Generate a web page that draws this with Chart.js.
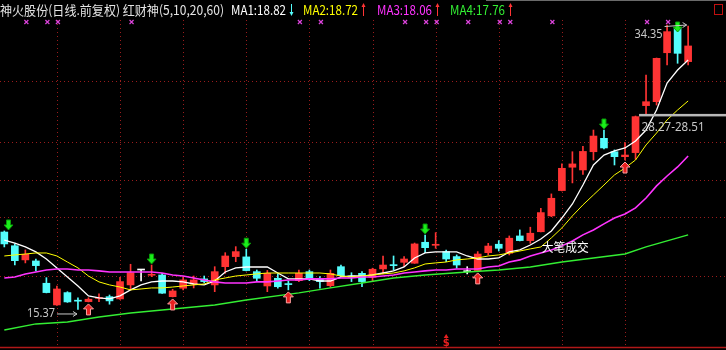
<!DOCTYPE html>
<html>
<head>
<meta charset="utf-8">
<title>神火股份 日线</title>
<script src="https://cdn.jsdelivr.net/npm/chart.js@4.4.1/dist/chart.umd.min.js"></script>
<style>
    html, body { margin: 0; padding: 0; background: #000; }
    #wrap { width: 726px; height: 350px; position: relative; overflow: hidden; }
    canvas { display: block; }
</style>
</head>
<body>
<div id="wrap"><canvas id="kline" width="726" height="350"></canvas></div>
<script>
/**
 * 神火股份 daily K-line with 红财神 MA overlay
 */

// Candles (one per trading day, oldest first)
const openPrices = [
    20.51, 19.60, 18.66, 18.59, 17.11, 15.67, 16.49, 15.96, 15.89, 16.10,
    16.22, 16.07, 17.00, 17.99, 17.64, 17.66, 16.22, 16.78, 17.06, 17.40,
    17.00, 18.21, 18.88, 18.86, 17.88, 16.93, 17.44, 17.06, 17.28, 17.88,
    17.38, 16.95, 18.21, 17.59, 17.77, 17.51, 18.06, 18.32, 18.50, 18.44,
    19.83, 19.63, 19.21, 18.88, 17.88, 17.95, 19.14, 19.70, 19.10, 20.25,
    19.94, 20.53, 21.58, 23.26, 24.81, 24.63, 25.84, 26.73, 25.84, 25.51,
    25.78, 28.90, 29.16, 32.41, 34.03, 31.82
];
const closePrices = [
    19.72, 18.61, 19.03, 18.28, 16.49, 16.73, 15.87, 15.92, 16.05, 16.12,
    15.94, 17.22, 17.81, 17.99, 17.66, 16.45, 16.60, 17.33, 17.33, 17.22,
    17.88, 18.92, 19.21, 17.95, 17.44, 17.77, 16.88, 17.02, 17.77, 17.40,
    17.22, 17.77, 17.61, 17.51, 17.22, 18.04, 18.32, 18.28, 18.72, 19.72,
    19.47, 19.65, 18.72, 18.32, 17.88, 19.05, 19.58, 19.43, 20.10, 19.94,
    20.43, 21.80, 22.75, 24.74, 25.03, 25.86, 26.88, 26.09, 25.51, 25.62,
    28.17, 29.16, 32.04, 33.81, 32.37, 32.86
];
const highPrices = [
    20.58, 19.72, 19.32, 18.72, 17.48, 16.93, 16.55, 16.14, 16.15, 16.40,
    16.33, 17.51, 18.37, 17.99, 18.32, 17.77, 16.71, 17.53, 17.59, 17.59,
    18.21, 19.14, 19.54, 19.37, 17.99, 17.96, 17.73, 17.26, 17.99, 17.99,
    17.55, 17.99, 18.32, 17.81, 17.88, 18.11, 18.92, 18.92, 18.88, 19.78,
    20.31, 20.47, 19.32, 18.99, 18.21, 19.21, 19.76, 19.94, 20.25, 20.65,
    20.83, 22.09, 23.04, 25.03, 25.84, 26.19, 27.28, 27.28, 25.96, 26.44,
    28.21, 30.93, 32.06, 34.25, 34.35, 34.18
];
const lowPrices = [
    19.52, 18.32, 18.46, 17.93, 16.47, 15.64, 15.84, 15.37, 15.87, 15.89,
    15.72, 16.04, 16.67, 17.26, 17.55, 16.43, 16.20, 16.67, 16.80, 17.13,
    16.55, 17.77, 18.54, 17.93, 17.22, 16.55, 16.78, 16.67, 17.22, 17.28,
    16.78, 16.84, 17.55, 17.22, 16.88, 17.22, 17.73, 17.99, 18.21, 18.43,
    19.14, 19.43, 18.54, 18.11, 17.73, 17.93, 18.99, 19.25, 18.99, 19.92,
    19.76, 20.51, 21.53, 23.24, 23.77, 24.33, 25.29, 26.02, 24.96, 25.29,
    25.34, 28.28, 28.94, 31.60, 31.71, 31.60
];

// Moving averages (MA1..MA3 one value per candle)
const ma1 = [
    19.98, 19.78, 19.52, 19.19, 18.72, 18.13, 17.53, 16.93, 16.27, 16.14,
    16.07, 16.27, 16.67, 17.00, 17.20, 17.26, 17.26, 17.20, 17.06, 17.00,
    17.26, 17.86, 18.13, 18.19, 18.19, 18.19, 17.79, 17.40, 17.40, 17.40,
    17.26, 17.26, 17.53, 17.59, 17.59, 17.66, 17.79, 17.93, 18.19, 18.79,
    19.12, 19.19, 19.19, 19.19, 18.92, 18.72, 18.72, 18.79, 19.19, 19.32,
    19.65, 20.05, 20.58, 21.44, 22.37, 23.63, 24.96, 25.62, 25.89, 26.09,
    26.55, 27.28, 28.61, 30.40, 31.26, 31.93
];
const ma2 = [
    18.92, 18.99, 19.05, 19.12, 19.12, 18.92, 18.52, 18.13, 17.59, 17.20,
    17.00, 16.86, 16.67, 16.73, 16.80, 16.80, 16.86, 16.93, 17.00, 17.06,
    17.33, 17.46, 17.59, 17.66, 17.73, 17.79, 17.79, 17.79, 17.79, 17.79,
    17.79, 17.73, 17.59, 17.53, 17.59, 17.66, 17.73, 17.79, 17.93, 18.13,
    18.39, 18.46, 18.52, 18.66, 18.72, 18.79, 18.92, 18.99, 19.12, 19.25,
    19.39, 19.52, 20.12, 20.78, 21.58, 22.31, 22.97, 23.63, 24.30, 24.76,
    25.29, 26.29, 27.08, 27.95, 28.61, 29.21
];
const ma3 = [
    17.46, 17.53, 17.73, 17.86, 17.99, 18.06, 18.06, 17.99, 17.99, 17.93,
    17.86, 17.86, 17.86, 17.86, 17.86, 17.79, 17.66, 17.59, 17.46, 17.33,
    17.20, 17.13, 17.13, 17.13, 17.20, 17.20, 17.26, 17.33, 17.33, 17.40,
    17.40, 17.40, 17.46, 17.46, 17.53, 17.53, 17.59, 17.66, 17.79, 17.86,
    17.93, 17.99, 17.99, 18.06, 18.06, 18.06, 18.19, 18.26, 18.52, 18.66,
    18.92, 19.12, 19.32, 19.59, 19.92, 20.32, 20.65, 21.05, 21.44, 21.71,
    22.11, 22.77, 23.57, 24.23, 24.83, 25.56
];
// MA4 is almost straight, sampled at these candles
const ma4Idx = [0, 3, 6, 9, 12, 16, 20, 23, 28, 31, 34, 37, 40, 44, 47, 50, 53, 56, 59, 61, 62, 64, 65];
const ma4 = [14.01, 14.41, 14.54, 14.87, 15.14, 15.40, 15.67, 16.00, 16.47, 16.80, 17.13, 17.46,
             17.66, 17.86, 17.99, 18.19, 18.52, 18.79, 19.05, 19.52, 19.72, 20.12, 20.32];

// Signals
const sellIdx = [0, 14, 23, 40, 57, 64];           // green down arrows
const buyIdx = [8, 16, 27, 45, 59];                 // red up arrows
const crossIdx = [2, 4, 5, 12, 28, 30, 38, 40, 41, 44, 47, 48, 52, 61, 63];  // magenta x row
const dollarIdx = 42;
const bigTradeIdx = 51;
const bigTradePrice = 19.52;
const rangeIdx = 60;
const rangeLow = 28.27;
const rangeHigh = 28.51;

// Grid
const gridIdx = [5, 11, 17, 23, 29, 35, 41, 47, 53, 59];
const gridPrices = [30.53, 26.49, 23.96, 21.51, 17.59];

// Header
const titleText = '神火股份(日线.前复权) 红财神(5,10,20,60)';
const maLabels = ['MA1:18.82', 'MA2:18.72', 'MA3:18.06', 'MA4:17.76'];
const maTrend = ['down', 'up', 'up', 'up'];

const RED = '#ff3434';
const CYAN = '#54fcfc';
const MA_COLORS = ['#ffffff', '#ffff00', '#ff33ff', '#33ee33'];
const CJK = '"Noto Sans CJK SC", "Noto Sans", sans-serif';

const candleIdx = openPrices.map((_, i) => i);
const candleColors = candleIdx.map(i => {
    if (closePrices[i] > openPrices[i]) return RED;
    if (closePrices[i] < openPrices[i]) return CYAN;
    return '#ffffff';
});

/**
 * Text squeezed or stretched to a given width (the terminal font is narrow)
 */
function fitText(ctx, text, x, y, width, color, font) {
    ctx.save();
    ctx.font = font;
    ctx.fillStyle = color;
    ctx.textBaseline = 'middle';
    const w = ctx.measureText(text).width;
    ctx.translate(x, y);
    ctx.scale(width / w, 1);
    ctx.fillText(text, 0, 0);
    ctx.restore();
}

function thinArrow(ctx, x, yTail, yHead, color) {
    const d = yHead > yTail ? -1 : 1;
    ctx.strokeStyle = color;
    ctx.fillStyle = color;
    ctx.lineWidth = 1;
    ctx.beginPath();
    ctx.moveTo(x, yTail);
    ctx.lineTo(x, yHead + d * 3);
    ctx.stroke();
    ctx.beginPath();
    ctx.moveTo(x - 2, yHead + d * 4);
    ctx.lineTo(x, yHead);
    ctx.lineTo(x + 2, yHead + d * 4);
    ctx.closePath();
    ctx.fill();
}

function sellArrow(ctx, x, tip) {
    tip = Math.max(tip, 32);
    ctx.fillStyle = '#1aee1a';
    ctx.strokeStyle = '#0a9a0a';
    ctx.lineWidth = 1;
    ctx.beginPath();
    ctx.moveTo(x - 2, tip - 10);
    ctx.lineTo(x + 2, tip - 10);
    ctx.lineTo(x + 2, tip - 5);
    ctx.lineTo(x + 4.5, tip - 5);
    ctx.lineTo(x, tip);
    ctx.lineTo(x - 4.5, tip - 5);
    ctx.lineTo(x - 2, tip - 5);
    ctx.closePath();
    ctx.fill();
    ctx.stroke();
}

function buyArrow(ctx, x, top) {
    ctx.fillStyle = '#e82020';
    ctx.strokeStyle = '#ffa0a0';
    ctx.lineWidth = 1;
    ctx.beginPath();
    ctx.moveTo(x, top);
    ctx.lineTo(x + 5, top + 5);
    ctx.lineTo(x + 2, top + 5);
    ctx.lineTo(x + 2, top + 11);
    ctx.lineTo(x - 2, top + 11);
    ctx.lineTo(x - 2, top + 5);
    ctx.lineTo(x - 5, top + 5);
    ctx.closePath();
    ctx.fill();
    ctx.stroke();
}

function lineArrow(ctx, x0, y0, x1, y1, color) {
    ctx.strokeStyle = color;
    ctx.lineWidth = 1;
    ctx.beginPath();
    ctx.moveTo(x0, y0);
    ctx.lineTo(x1, y1);
    ctx.moveTo(x1 - 4, y1 - 2.5);
    ctx.lineTo(x1, y1);
    ctx.lineTo(x1 - 4, y1 + 2.5);
    ctx.stroke();
}

// Dotted terminal grid, behind the candles
const gridPlugin = {
    id: 'grid',
    beforeDatasetsDraw(chart) {
        const { ctx, scales: { x, y }, width } = chart;
        ctx.save();
        ctx.strokeStyle = '#9a1c1c';
        ctx.lineWidth = 1;
        ctx.setLineDash([1, 3]);
        gridPrices.forEach(p => {
            const py = Math.round(y.getPixelForValue(p)) + 0.5;
            ctx.beginPath();
            ctx.moveTo(0, py);
            ctx.lineTo(width, py);
            ctx.stroke();
        });
        gridIdx.forEach(i => {
            const px = Math.round(x.getPixelForValue(i)) + 0.5;
            ctx.beginPath();
            ctx.moveTo(px, 20);
            ctx.lineTo(px, 346);
            ctx.stroke();
        });
        ctx.restore();
    }
};

// Header, signals and price labels on top
const overlayPlugin = {
    id: 'overlay',
    afterDatasetsDraw(chart) {
        const { ctx, scales: { x, y }, width } = chart;
        const X = i => x.getPixelForValue(i);
        const Y = p => y.getPixelForValue(p);
        ctx.save();

        // frame lines
        ctx.strokeStyle = '#b01818';
        ctx.lineWidth = 1.5;
        ctx.beginPath();
        ctx.moveTo(0, 347.5);
        ctx.lineTo(width, 347.5);
        ctx.stroke();
        ctx.strokeStyle = '#6a6a6a';
        ctx.lineWidth = 1;
        ctx.beginPath();
        ctx.moveTo(486, 0.5);
        ctx.lineTo(width, 0.5);
        ctx.stroke();
        ctx.strokeStyle = '#c01010';
        ctx.strokeRect(714.5, 4.5, 8, 10);

        // header
        fitText(ctx, titleText, 0, 10, 224, '#e4e4e4', '13px ' + CJK);
        const labelX = [231, 303, 377, 450];
        maLabels.forEach((t, k) => {
            fitText(ctx, t, labelX[k], 10, 55, MA_COLORS[k], '13px ' + CJK);
            const ax = labelX[k] + 60.5;
            if (maTrend[k] === 'down') thinArrow(ctx, ax, 4, 16, CYAN);
            else thinArrow(ctx, ax, 16, 3, RED);
        });

        // magenta x row
        ctx.strokeStyle = '#dd44dd';
        ctx.lineWidth = 1.2;
        crossIdx.forEach(i => {
            const px = X(i) + 1;
            ctx.beginPath();
            ctx.moveTo(px - 2, 20);
            ctx.lineTo(px + 2, 24);
            ctx.moveTo(px + 2, 20);
            ctx.lineTo(px - 2, 24);
            ctx.stroke();
        });

        // buy / sell arrows
        sellIdx.forEach(i => sellArrow(ctx, Math.max(X(i), 8.5), Y(highPrices[i]) - 1));
        buyIdx.forEach(i => buyArrow(ctx, X(i), Y(lowPrices[i]) + 2));

        // highest and lowest price
        const hi = highPrices.indexOf(Math.max(...highPrices));
        const lo = lowPrices.indexOf(Math.min(...lowPrices));
        const hx = X(hi), hy = Y(highPrices[hi]);
        fitText(ctx, highPrices[hi].toFixed(2), hx - 43, hy + 10.5, 28, '#c8c8c8', '13px "Noto Sans", sans-serif');
        lineArrow(ctx, hx - 13, hy + 3, hx + 9, hy + 1.5, '#c8c8c8');
        const lx = X(lo), ly = Y(lowPrices[lo]);
        fitText(ctx, lowPrices[lo].toFixed(2), lx - 51, ly + 3.5, 28, '#c8c8c8', '13px "Noto Sans", sans-serif');
        lineArrow(ctx, lx - 21, ly + 4.5, lx - 1, ly + 4.5, '#c8c8c8');

        // range marker
        const ry = Y(rangeLow);
        ctx.fillStyle = '#b8b8b8';
        ctx.fillRect(X(rangeIdx) + 3.5, ry - 1.2, width, 2.5);
        fitText(ctx, rangeLow.toFixed(2) + '-' + rangeHigh.toFixed(2), X(rangeIdx) + 6, ry + 12, 63,
            '#c8c8c8', '13px "Noto Sans", sans-serif');

        // 大笔成交
        fitText(ctx, '大笔成交', X(bigTradeIdx) + 1, Y(bigTradePrice), 47, '#ffffff', '12px ' + CJK);

        // $ mark on the bottom line
        const dx = X(dollarIdx);
        ctx.fillStyle = '#e82020';
        ctx.beginPath();
        ctx.moveTo(dx, 334);
        ctx.lineTo(dx + 2.5, 338);
        ctx.lineTo(dx - 2.5, 338);
        ctx.closePath();
        ctx.fill();
        ctx.font = 'bold 10px "DejaVu Sans", sans-serif';
        ctx.textAlign = 'center';
        ctx.textBaseline = 'middle';
        ctx.fillText('$', dx, 343);

        ctx.restore();
    }
};

function maDataset(values, idx, color, width) {
    return {
        type: 'line',
        data: values.map((v, k) => ({ x: idx ? idx[k] : k, y: v })),
        borderColor: color,
        borderWidth: width,
        pointRadius: 0,
        tension: 0,
        order: 1
    };
}

new Chart(document.getElementById('kline'), {
    type: 'bar',
    data: {
        datasets: [
            {
                label: 'wick',
                data: candleIdx.map(i => ({ x: i, y: [lowPrices[i], highPrices[i]] })),
                backgroundColor: candleColors,
                barThickness: 1,
                grouped: false,
                order: 3
            },
            {
                label: 'body',
                data: candleIdx.map(i => ({ x: i, y: [openPrices[i], closePrices[i]] })),
                backgroundColor: candleColors,
                barThickness: 7,
                minBarLength: 1,
                grouped: false,
                order: 2
            },
            maDataset(ma4, ma4Idx, MA_COLORS[3], 1.4),
            maDataset(ma3, null, MA_COLORS[2], 1.6),
            maDataset(ma2, null, MA_COLORS[1], 1),
            maDataset(ma1, null, MA_COLORS[0], 1.3)
        ]
    },
    options: {
        responsive: false,
        animation: false,
        devicePixelRatio: 1,
        layout: { padding: 0 },
        plugins: {
            legend: { display: false },
            tooltip: { enabled: false }
        },
        scales: {
            x: { type: 'linear', min: -0.41, max: 68.6, display: false, offset: false },
            y: { min: 12.68, max: 35.91, display: false }
        }
    },
    plugins: [gridPlugin, overlayPlugin]
});
</script>
</body>
</html>
